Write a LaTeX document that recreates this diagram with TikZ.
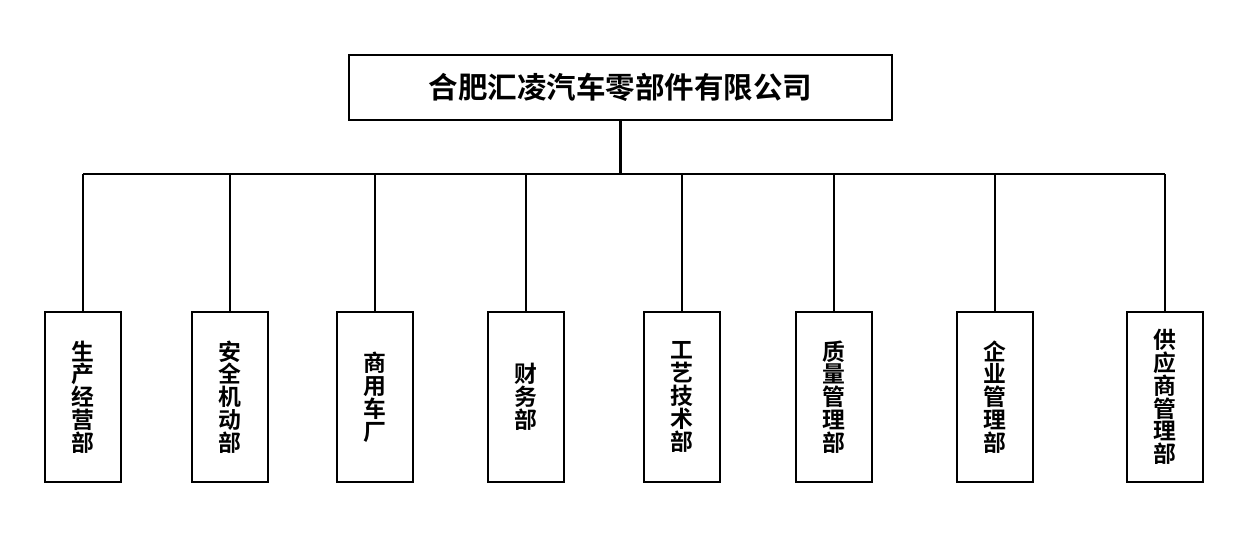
\documentclass[tikz,border=0pt]{standalone}
\usepackage{fontspec}
\newfontfamily\cjk{Noto Sans CJK SC}[BoldFont={Noto Sans CJK SC Bold}]
\usetikzlibrary{positioning,calc}
\tikzset{
    headbox/.style = {rectangle, draw=black, line width=1.1pt, minimum width=10.86cm,
                      minimum height=1.3cm, inner sep=0pt,
                      font=\cjk\bfseries\fontsize{16.8}{18}\selectfont},
    deptbox/.style = {rectangle, draw=black, line width=1.1pt, minimum width=1.52cm,
                      minimum height=3.4cm, inner sep=0pt, align=center,
                      font=\cjk\bfseries\fontsize{13}{13}\selectfont},
    trunk/.style   = {draw=black, line width=2pt},
    branch/.style  = {draw=black, line width=0.8pt}
}
\begin{document}
\begin{tikzpicture}[x=0.02cm, y=-0.02cm]
    \useasboundingbox (0,0) rectangle (1255,539);
    \def\by{397}
    % company
    \node[headbox] (company) at (620.5, 87.5) {合肥汇凌汽车零部件有限公司};
    % departments
    \node[deptbox] (prod)   at (83, \by)   {生\\产\\经\\营\\部};
    \node[deptbox] (safety) at (230, \by)  {安\\全\\机\\动\\部};
    \node[deptbox] (plant)  at (375, \by)  {商\\用\\车\\厂};
    \node[deptbox] (fin)    at (526, \by)  {财\\务\\部};
    \node[deptbox] (tech)   at (682, \by)  {工\\艺\\技\\术\\部};
    \node[deptbox] (qual)   at (834, \by)  {质\\量\\管\\理\\部};
    \node[deptbox] (corp)   at (995, \by)  {企\\业\\管\\理\\部};
    \node[deptbox] (supp)   at (1165, \by) {供\\应\\商\\管\\理\\部};
    \coordinate (bus) at (620, 174);
    % connectors
    \draw[trunk] (company.south) -- (company.south |- bus);
    \draw[branch] (prod.north |- bus) -- (supp.north |- bus);
    \foreach \d in {prod, safety, plant, fin, tech, qual, corp, supp}
        \draw[branch] (\d.north |- bus) -- (\d.north);
\end{tikzpicture}
\end{document}
